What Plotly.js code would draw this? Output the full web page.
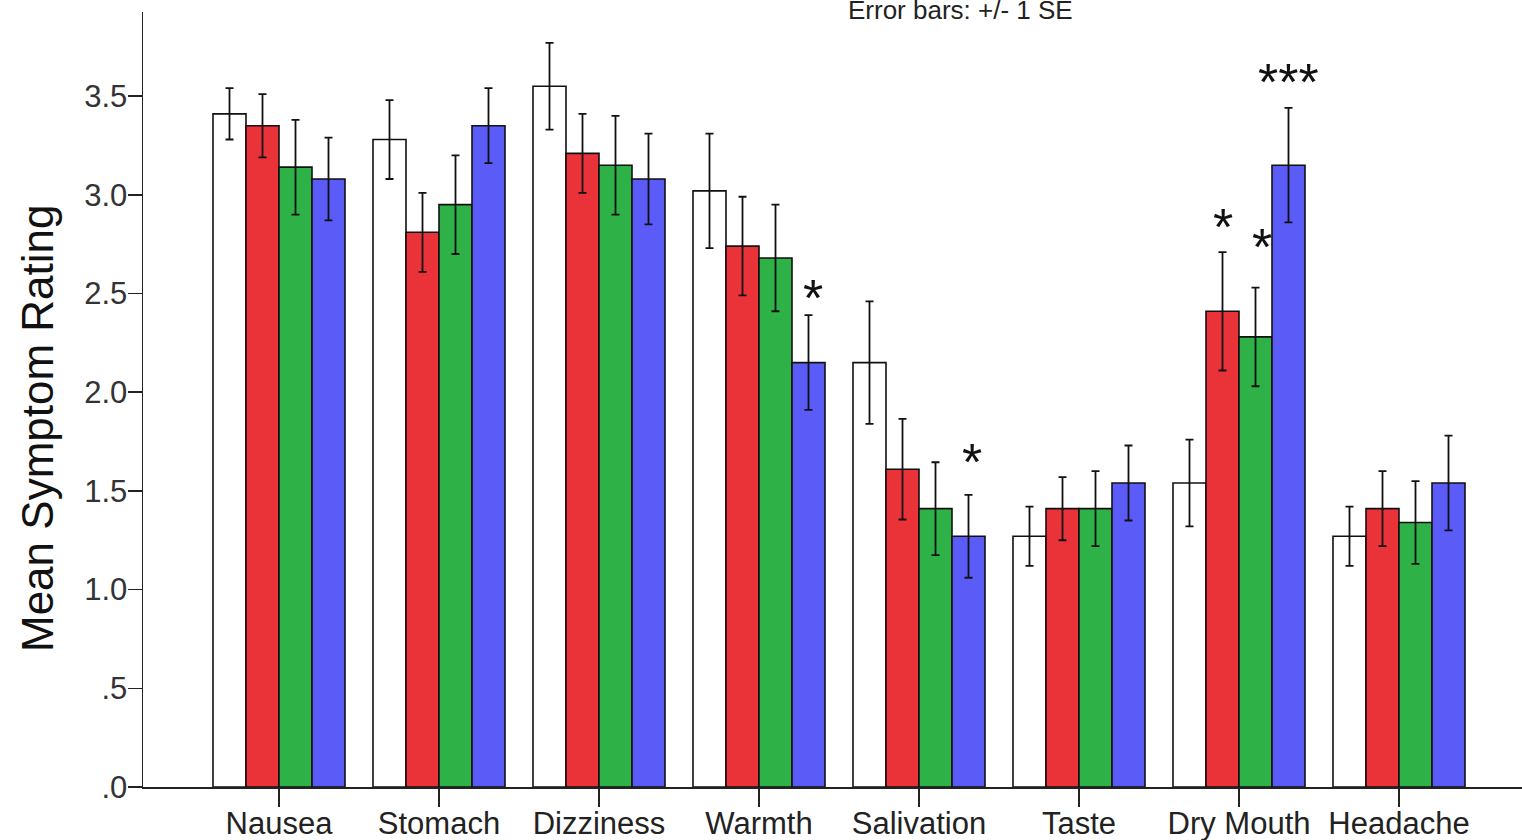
<!DOCTYPE html>
<html>
<head>
<meta charset="utf-8">
<script src="https://cdn.plot.ly/plotly-3.0.1.min.js"></script>
<style>html,body{margin:0;padding:0;background:#fff;}#chart{width:1522px;height:840px;}</style>
</head>
<body>
<div id="chart"></div>
<script>
const categories = ['Nausea','Stomach','Dizziness','Warmth','Salivation','Taste','Dry Mouth','Headache'];
const seriesNames = ['Condition 1','Condition 2','Condition 3','Condition 4'];
const seriesColors = ['#ffffff','#ea3338','#2eb146','#5b5cf8'];

const valuesWhite = [3.41, 3.28, 3.55, 3.02, 2.15, 1.27, 1.54, 1.27];
const seWhite     = [0.13, 0.20, 0.22, 0.29, 0.31, 0.15, 0.22, 0.15];
const valuesRed   = [3.35, 2.81, 3.21, 2.74, 1.61, 1.41, 2.41, 1.41];
const seRed       = [0.16, 0.20, 0.20, 0.25, 0.255, 0.16, 0.30, 0.19];
const valuesGreen = [3.14, 2.95, 3.15, 2.68, 1.41, 1.41, 2.28, 1.34];
const seGreen     = [0.24, 0.25, 0.25, 0.27, 0.235, 0.19, 0.25, 0.21];
const valuesBlue  = [3.08, 3.35, 3.08, 2.15, 1.27, 1.54, 3.15, 1.54];
const seBlue      = [0.21, 0.19, 0.23, 0.24, 0.21, 0.19, 0.29, 0.24];

const yTickVals = [0, 0.5, 1.0, 1.5, 2.0, 2.5, 3.0, 3.5];
const yTickText = ['.0', '.5', '1.0', '1.5', '2.0', '2.5', '3.0', '3.5'];

// significance marks: category index, series index, label, y position (data units)
const sigCategory = [3, 4, 6, 6, 6];
const sigSeries   = [3, 3, 1, 2, 3];
const sigText     = ['*', '*', '*', '*', '***'];
const sigY        = [2.515, 1.68, 2.87, 2.77, 3.605];
const sigXShift   = [4, 3, 0, 6, 0];

const allValues = [valuesWhite, valuesRed, valuesGreen, valuesBlue];
const allSE = [seWhite, seRed, seGreen, seBlue];

const xIdx = categories.map((c, i) => i);
const bargap = 0.175;
const barW = (1 - bargap) / 4;
const FONT = 'Arial, Liberation Sans, sans-serif';

const traces = allValues.map((vals, s) => ({
  type: 'bar',
  name: seriesNames[s],
  x: xIdx,
  y: vals,
  marker: {color: seriesColors[s], line: {color: '#111', width: 1.6}},
  error_y: {type: 'data', array: allSE[s], visible: true, color: '#111', thickness: 1.8, width: 4},
  hoverinfo: 'y'
}));

const annotations = sigCategory.map((c, k) => ({
  x: c + (sigSeries[k] - 1.5) * barW,
  y: sigY[k],
  xref: 'x', yref: 'y',
  text: sigText[k],
  showarrow: false,
  xanchor: 'center', yanchor: 'middle',
  xshift: sigXShift[k],
  yshift: -7,
  font: {family: FONT, size: 52, color: '#111'}
}));

annotations.push({
  xref: 'paper', yref: 'paper',
  x: (960 - 143) / 1379, y: 1,
  text: 'Error bars: +/- 1 SE',
  showarrow: false, xanchor: 'center', yanchor: 'middle',
  yshift: 2,
  font: {family: FONT, size: 26, color: '#222'}
});

annotations.push({
  xref: 'paper', yref: 'paper',
  x: (37 - 143) / 1379, y: (787 - 428) / 775,
  text: 'Mean Symptom Rating',
  textangle: -90,
  showarrow: false, xanchor: 'center', yanchor: 'middle',
  font: {family: FONT, size: 44, color: '#111'}
});

const layout = {
  width: 1522, height: 840,
  margin: {l: 143, r: 0, t: 12, b: 53, pad: 0},
  paper_bgcolor: '#fff', plot_bgcolor: '#fff',
  barmode: 'group', bargap: bargap, bargroupgap: 0,
  showlegend: false,
  xaxis: {
    range: [-0.85, -0.85 + 1379 / 160],
    tickmode: 'array', tickvals: xIdx, ticktext: categories,
    ticks: 'outside', ticklen: 18, tickwidth: 1.5, tickcolor: '#222',
    ticklabelstandoff: -10,
    showline: true, linecolor: '#222', linewidth: 1.5,
    showgrid: false, zeroline: false,
    tickfont: {family: FONT, size: 31, color: '#222'}
  },
  yaxis: {
    range: [0, 3.926],
    tickmode: 'array', tickvals: yTickVals, ticktext: yTickText,
    ticks: 'outside', ticklen: 14, tickwidth: 1.5, tickcolor: '#222',
    ticklabelstandoff: -6,
    showline: true, linecolor: '#222', linewidth: 1.5,
    showgrid: false, zeroline: false,
    tickfont: {family: FONT, size: 31, color: '#333'}
  },
  annotations: annotations,
  font: {family: FONT}
};

Plotly.newPlot('chart', traces, layout, {displayModeBar: false, staticPlot: true});
</script>
</body>
</html>
